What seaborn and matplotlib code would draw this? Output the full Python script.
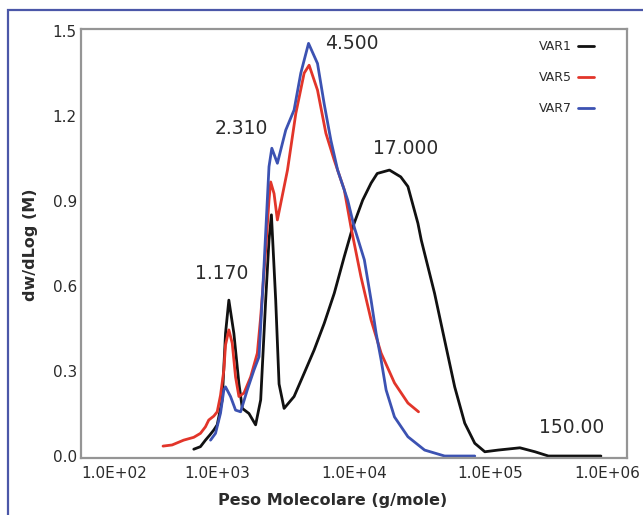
import numpy as np
import pandas as pd
import matplotlib
matplotlib.use("Agg")
import matplotlib.pyplot as plt
import matplotlib.transforms as mtransforms
from matplotlib.patches import Rectangle
from matplotlib.ticker import FixedLocator, LogLocator, NullFormatter, MultipleLocator
import seaborn as sns

# ---------------- data ----------------
var1_m = [670, 750, 816, 878, 940, 995, 1083, 1145, 1211, 1318, 1435, 1520, 1700, 1902,
          2072, 2254, 2384, 2483, 2669, 2825, 3075, 3640, 4313, 5104, 6050, 7165, 8490,
          9780, 11580, 13340, 14800, 18190, 22000, 24830, 29400, 31100, 38930, 46110,
          54660, 64750, 76690, 90870, 113900, 164200, 211700, 265600, 644200]
var1_y = [0.024, 0.033, 0.056, 0.074, 0.092, 0.110, 0.198, 0.433, 0.550, 0.433, 0.256, 0.168,
          0.150, 0.110, 0.198, 0.550, 0.762, 0.851, 0.550, 0.254, 0.168, 0.210, 0.292, 0.374,
          0.468, 0.574, 0.704, 0.807, 0.903, 0.963, 0.997, 1.009, 0.985, 0.951, 0.821, 0.762,
          0.574, 0.409, 0.244, 0.116, 0.045, 0.015, 0.021, 0.029, 0.015, 0.0, 0.0]

var5_m = [399, 465, 565, 670, 750, 816, 863, 940, 995, 1052, 1113, 1145, 1211, 1282, 1356,
          1435, 1562, 1749, 1958, 2072, 2254, 2384, 2453, 2596, 2746, 3256, 3748, 4313, 4690,
          5404, 6223, 7165, 8490, 9506, 11250, 13340, 15800, 19790, 24830, 29700]
var5_y = [0.035, 0.039, 0.056, 0.066, 0.080, 0.103, 0.127, 0.141, 0.156, 0.214, 0.303, 0.392,
          0.445, 0.398, 0.279, 0.210, 0.222, 0.279, 0.363, 0.491, 0.727, 0.903, 0.967, 0.926,
          0.833, 1.009, 1.209, 1.351, 1.379, 1.291, 1.139, 1.044, 0.939, 0.807, 0.632, 0.480,
          0.363, 0.258, 0.187, 0.156]

var7_m = [889, 967, 1052, 1113, 1145, 1246, 1356, 1477, 1652, 1849, 2014, 2190, 2384, 2500,
          2746, 3162, 3640, 4076, 4645, 5404, 6050, 6771, 7585, 8990, 10050, 11910, 13340,
          14510, 15800, 17190, 19790, 24830, 32900, 46110, 76690]
var7_y = [0.056, 0.080, 0.151, 0.233, 0.244, 0.210, 0.162, 0.156, 0.233, 0.303, 0.350, 0.668,
          1.021, 1.086, 1.033, 1.150, 1.221, 1.351, 1.456, 1.385, 1.242, 1.114, 1.009, 0.903,
          0.807, 0.692, 0.550, 0.434, 0.339, 0.233, 0.138, 0.068, 0.021, 0.0, 0.0]

series_names = ["VAR1", "VAR5", "VAR7"]
series_colors = ["#111111", "#e2352a", "#3c52b2"]

peak_labels = ["4.500", "17.000", "2.310", "1.170", "150.00"]
peak_label_m = [9660, 23700, 1500, 1070, 394600]
peak_label_y = [1.454, 1.085, 1.156, 0.644, 0.100]

x_ticks = [1e2, 1e3, 1e4, 1e5, 1e6]
x_tick_labels = ["1.0E+02", "1.0E+03", "1.0E+04", "1.0E+05", "1.0E+06"]
y_ticks = [0.0, 0.3, 0.6, 0.9, 1.2, 1.5]

# ---------------- build table ----------------
df = pd.concat([
    pd.DataFrame({"M": var1_m, "y": var1_y, "serie": "VAR1"}),
    pd.DataFrame({"M": var5_m, "y": var5_y, "serie": "VAR5"}),
    pd.DataFrame({"M": var7_m, "y": var7_y, "serie": "VAR7"}),
], ignore_index=True)

sns.set_style("white")
plt.rcParams["font.family"] = ["DejaVu Sans"]

W, H = 643, 515
fig = plt.figure(figsize=(W / 100, H / 100), dpi=100)
ax = fig.add_axes([81 / W, 1 - 458 / H, (627 - 81) / W, (458 - 29.5) / H])

sns.lineplot(data=df, x="M", y="y", hue="serie", hue_order=series_names,
             palette=dict(zip(series_names, series_colors)), sort=False, estimator=None,
             linewidth=2.0, ax=ax, legend=True)
for ln in ax.get_lines():
    ln.set_solid_joinstyle("round")
    ln.set_solid_capstyle("round")

ax.set_xscale("log")
ax.set_xlim(1e2, 1e6)
ax.set_ylim(-0.007, 1.505)

# ticks
ax.xaxis.set_major_locator(FixedLocator(x_ticks))
ax.set_xticklabels(x_tick_labels)
ax.xaxis.set_minor_locator(LogLocator(base=10, subs=np.arange(2, 10)))
ax.xaxis.set_minor_formatter(NullFormatter())
ax.yaxis.set_major_locator(FixedLocator(y_ticks))
ax.set_yticklabels([f"{v:.1f}" for v in y_ticks])
ax.yaxis.set_minor_locator(MultipleLocator(0.1))

tick_col = "#8a8a8a"
ax.tick_params(axis="both", which="both", direction="in", color=tick_col, width=1.0)
ax.tick_params(axis="both", which="major", length=5, labelsize=11, labelcolor="#2b2b2b")
ax.tick_params(axis="both", which="minor", length=3)
ax.tick_params(axis="x", which="major", pad=6)
ax.tick_params(axis="y", which="major", pad=3)

for s in ax.spines.values():
    s.set_visible(True)
    s.set_color("#959595")
    s.set_linewidth(1.6)

# labels
ax.set_xlabel("Peso Molecolare (g/mole)", fontsize=11.5, fontweight="bold", color="#2b2b2b")
ax.set_ylabel("dw/dLog (M)", fontsize=11.5, fontweight="bold", color="#2b2b2b")
ax.xaxis.set_label_coords((333 - 81) / (627 - 81), (458 - 500) / (458 - 29.5))
ax.yaxis.set_label_coords((30 - 81) / (627 - 81), (458 - 245) / (458 - 29.5))
ax.xaxis.label.set_va("center")
ax.yaxis.label.set_va("center")

# peak annotations
for t, xm, yv in zip(peak_labels, peak_label_m, peak_label_y):
    ax.text(xm, yv, t, fontsize=13.5, color="#2b2b2b", ha="center", va="center")

# legend (labels left of short line handles)
leg = ax.legend(loc="upper right", bbox_to_anchor=((594 - 81) / (627 - 81), (458 - 40) / (458 - 29.5)),
                frameon=False, markerfirst=False, fontsize=9, handlelength=1.3,
                handletextpad=0.5, labelspacing=1.45, borderpad=0, borderaxespad=0)
for txt in leg.get_texts():
    txt.set_color("#2b2b2b")
for ln in leg.get_lines():
    ln.set_linewidth(2.0)

# outer frame
fig.patches.append(Rectangle((8 / W, -0.05), 1.2, 1 - 10 / H + 0.05, transform=fig.transFigure,
                             fill=False, edgecolor="#4b57a8", linewidth=1.6, zorder=0))

# shift first/last x tick labels inward like the reference
fig.canvas.draw()
labels = ax.get_xticklabels()
labels[0].set_transform(labels[0].get_transform() + mtransforms.ScaledTranslation(33 / 100, 0, fig.dpi_scale_trans))
labels[-1].set_transform(labels[-1].get_transform() + mtransforms.ScaledTranslation(-20 / 100, 0, fig.dpi_scale_trans))

fig.savefig("out.png", dpi=100)
